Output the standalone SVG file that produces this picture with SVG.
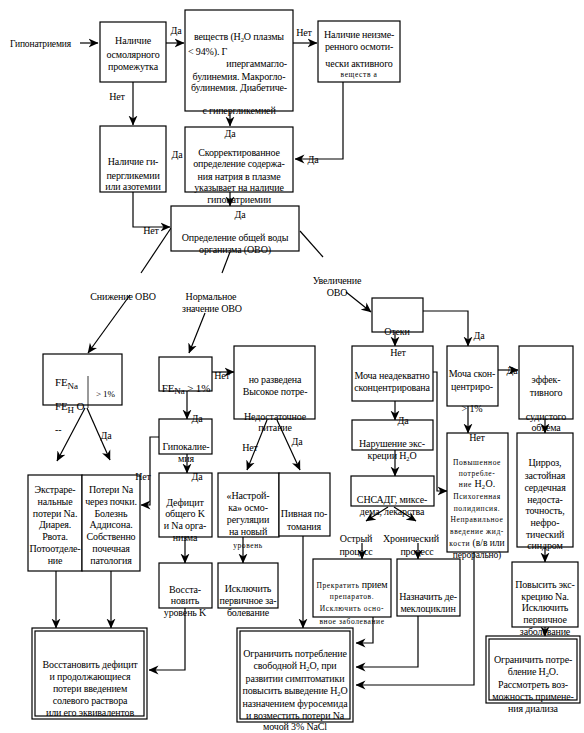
<svg xmlns="http://www.w3.org/2000/svg" width="584" height="733" viewBox="0 0 584 733" font-family="'Liberation Serif', 'Times New Roman', serif">
<defs>
<marker id="ah" markerUnits="userSpaceOnUse" markerWidth="10" markerHeight="10" viewBox="0 0 10 10" refX="9.5" refY="5" orient="auto">
<path d="M0,0.5 L10,5 L0,9.5 L3,5 z" fill="#000"/>
</marker>
<style>
.b{fill:#fff;stroke:#000;stroke-width:1.2}
.l{fill:none;stroke:#000;stroke-width:1.2}
.a{fill:none;stroke:#000;stroke-width:1.2;marker-end:url(#ah)}
text{font-family:"Liberation Serif","Times New Roman",serif;font-size:10px;letter-spacing:-0.15px;fill:#000}
.c{text-anchor:middle}
.s{font-size:7.5px;letter-spacing:0.6px}
.u{font-size:6.5px}
</style>
</defs>
<rect width="584" height="733" fill="#fff"/>

<g id="connectors">
<path class="a" d="M80,43 L98,43"/>
<path class="a" d="M166,43 L184,43"/>
<path class="a" d="M293,43 L317,43"/>
<path class="a" d="M343,82 L343,159 L295,159"/>
<path class="a" d="M133,82 L133,125"/>
<path class="a" d="M230,111 L230,126"/>
<path class="a" d="M133,192 L133,227 L170,227"/>
<path class="a" d="M230,192 L230,206"/>
<path class="l" d="M171,228 L141,273"/>
<path class="a" d="M130,295 L88,353"/>
<path class="l" d="M230,252 L222,273"/>
<path class="a" d="M205,313 L189,353"/>
<path class="l" d="M300,231 L323,257"/>
<path class="a" d="M346,292 L371,312"/>
<path class="a" d="M395,332 L395,346"/>
<path class="a" d="M423,311 L468,311 L468,346"/>
<path class="a" d="M395,401 L395,420"/>
<path class="a" d="M433,372 L437,372 L437,491 L447,491"/>
<path class="a" d="M468,406 L468,433"/>
<path class="a" d="M498,370 L518,370"/>
<path class="a" d="M545,419 L545,433"/>
<path class="a" d="M545,547 L545,562"/>
<path class="a" d="M545,627 L545,636"/>
<path class="a" d="M395,450 L395,476"/>
<path class="a" d="M388,507 L366,521"/>
<path class="a" d="M394,507 L416,521"/>
<path class="a" d="M362,543 L362,559"/>
<path class="a" d="M418,543 L418,559"/>
<path class="a" d="M373,617 L373,643 L356,643"/>
<path class="a" d="M418,616 L418,667 L356,667"/>
<path class="a" d="M474,552 L474,685 L356,685"/>
<path class="a" d="M303,536 L303,628"/>
<path class="a" d="M85,408 L57,461"/>
<path class="a" d="M87,408 L110,460"/>
<path class="a" d="M56,571 L56,628"/>
<path class="a" d="M111,571 L111,628"/>
<path class="a" d="M212,372 L234,372"/>
<path class="a" d="M187,391 L187,419"/>
<path class="a" d="M159,437 L150,437 L150,505 L141,505"/>
<path class="a" d="M187,454 L187,473"/>
<path class="a" d="M185,537 L185,563"/>
<path class="a" d="M185,608 L185,670 L149,670"/>
<path class="a" d="M267,420 L247,470"/>
<path class="a" d="M277,420 L300,470"/>
<path class="a" d="M243,537 L243,563"/>
</g>

<g id="n1">
<rect class="b" x="100" y="22" width="66" height="60"/>
<text x="133" y="44" class="c">Наличие</text>
<text x="133" y="58" class="c">осмолярного</text>
<text x="133" y="70" class="c">промежутка</text>
</g>
<g id="n2">
<rect class="b" x="185" y="10" width="108" height="101"/>
<text x="239" y="40" class="c">веществ (H<tspan class="u" dy="2">2</tspan><tspan dy="-2">O  плазмы</tspan></text>
<text x="188" y="55">&lt; 94%). Г</text>
<text x="287" y="67" text-anchor="end">ипергаммагло-</text>
<text x="239" y="80" class="c">булинемия.  Макрогло-</text>
<text x="239" y="91" class="c">булинемия.  Диабетиче-</text>
<text x="239" y="114" class="c">с гипергликемией</text>
</g>
<g id="n3">
<rect class="b" x="318" y="21" width="82" height="61"/>
<text x="359" y="38" class="c">Наличие  неизме-</text>
<text x="359" y="50" class="c">ренного  осмоти-</text>
<text x="359" y="67" class="c">чески  активного</text>
<text x="359" y="77" class="c s">веществ а</text>
</g>
<g id="n4">
<rect class="b" x="100" y="126" width="66" height="66"/>
<text x="133" y="165" class="c">Наличие  ги-</text>
<text x="133" y="179" class="c">пергликемии</text>
<text x="133" y="190" class="c">или азотемии</text>
</g>
<g id="n5">
<rect class="b" x="185" y="127" width="108" height="65"/>
<text x="230" y="137" class="c">Да</text>
<text x="239" y="156" class="c">Скорректированное</text>
<text x="239" y="167" class="c">определение  содержа-</text>
<text x="239" y="180" class="c">ния  натрия  в  плазме</text>
<text x="239" y="191" class="c">указывает на  наличие</text>
<text x="239" y="203" class="c">гипонатриемии</text>
</g>
<g id="n6">
<rect class="b" x="171" y="206" width="128" height="45"/>
<text x="240" y="218" class="c">Да</text>
<text x="235" y="241" class="c">Определение  общей воды</text>
<text x="235" y="253" class="c">организма  (ОВО)</text>
</g>
<g id="n7">
<rect class="b" x="43" y="354" width="79" height="51"/>
<line class="l" x1="88" y1="376" x2="88" y2="408" style="stroke-width:0.8"/>
<text x="55" y="386" style="font-size:11px">FE<tspan dy="3" style="font-size:9px">Na</tspan></text>
<text x="96" y="397" style="font-size:9px">&gt; 1%</text>
<text x="55" y="410" style="font-size:11px">FE<tspan dy="3" style="font-size:9px">H</tspan><tspan dy="-3"> O</tspan></text>
</g>
<g id="n8">
<rect class="b" x="28" y="475" width="54" height="96"/>
<text x="55" y="493" class="c">Экстраре-</text>
<text x="55" y="505" class="c">нальные</text>
<text x="55" y="517" class="c">потери  Na.</text>
<text x="55" y="528" class="c">Диарея.</text>
<text x="55" y="540" class="c">Рвота.</text>
<text x="55" y="552" class="c">Потоотделе-</text>
<text x="55" y="564" class="c">ние</text>
</g>
<g id="n9">
<rect class="b" x="82" y="475" width="58" height="96"/>
<text x="111" y="493" class="c">Потери  Na</text>
<text x="111" y="505" class="c">через почки.</text>
<text x="111" y="517" class="c">Болезнь</text>
<text x="111" y="528" class="c">Аддисона.</text>
<text x="111" y="540" class="c">Собственно</text>
<text x="111" y="552" class="c">почечная</text>
<text x="111" y="564" class="c">патология</text>
</g>
<g id="n10">
<rect class="b" x="32" y="628" width="115" height="91"/>
<rect class="l" x="35" y="631" width="109" height="85"/>
<text x="90" y="668" class="c">Восстановить  дефицит</text>
<text x="90" y="680" class="c">и продолжающиеся</text>
<text x="90" y="692" class="c">потери  введением</text>
<text x="90" y="704" class="c">солевого раствора</text>
<text x="90" y="716" class="c">или его эквивалентов</text>
</g>
<g id="n11">
<rect class="b" x="159" y="357" width="53" height="34"/>
<text x="186" y="392" class="c" style="font-size:11px">FE<tspan dy="2" style="font-size:9px">Na</tspan><tspan dy="-2"> &gt; 1%</tspan></text>
</g>
<g id="n12">
<rect class="b" x="234" y="346" width="81" height="73"/>
<text x="275" y="383" class="c">но разведена</text>
<text x="275" y="395" class="c">Высокое потре-</text>
<text x="275" y="420" class="c">Недостаточное</text>
<text x="275" y="431" class="c">питание</text>
</g>
<g id="n13">
<rect class="b" x="159" y="419" width="53" height="35"/>
<text x="186" y="450" class="c">Гипокалие-</text>
<text x="186" y="462" class="c">мия</text>
</g>
<g id="n14">
<rect class="b" x="159" y="473" width="53" height="64"/>
<text x="185" y="506" class="c">Дефицит</text>
<text x="185" y="517" class="c">общего K</text>
<text x="185" y="529" class="c">и Na орга-</text>
<text x="185" y="541" class="c">низма</text>
</g>
<g id="n15">
<rect class="b" x="159" y="563" width="53" height="45"/>
<text x="185" y="593" class="c">Восста-</text>
<text x="185" y="604" class="c">новить</text>
<text x="185" y="616" class="c">уровень K</text>
</g>
<g id="n16">
<rect class="b" x="218" y="473" width="61" height="64"/>
<text x="248" y="499" class="c">«Настрой-</text>
<text x="248" y="511" class="c">ка» осмо-</text>
<text x="248" y="523" class="c">регуляции</text>
<text x="248" y="535" class="c">на новый</text>
<text x="248" y="548" class="c s">уровень</text>
</g>
<g id="n17">
<rect class="b" x="218" y="563" width="60" height="45"/>
<text x="248" y="592" class="c">Исключить</text>
<text x="248" y="604" class="c">первичное  за-</text>
<text x="248" y="616" class="c">болевание</text>
</g>
<g id="n18">
<rect class="b" x="279" y="473" width="51" height="63"/>
<text x="304" y="517" class="c">Пивная  по-</text>
<text x="304" y="530" class="c">томания</text>
</g>
<g id="n19">
<rect class="b" x="372" y="298" width="51" height="34"/>
<text x="397" y="335" class="c">Отеки</text>
</g>
<g id="n20">
<rect class="b" x="352" y="346" width="81" height="55"/>
<text x="398" y="356" class="c">Нет</text>
<text x="392" y="379" class="c">Моча неадекватно</text>
<text x="392" y="391" class="c">сконцентрирована</text>
</g>
<g id="n21">
<rect class="b" x="447" y="346" width="51" height="60"/>
<text x="472" y="377" class="c">Моча скон-</text>
<text x="472" y="390" class="c">центриро-</text>
</g>
<g id="n22">
<rect class="b" x="519" y="346" width="54" height="73"/>
<text x="546" y="383" class="c">эффек-</text>
<text x="546" y="396" class="c">тивного</text>
<text x="546" y="420" class="c">судистого</text>
<text x="546" y="431" class="c">объема</text>
</g>
<g id="n23">
<rect class="b" x="352" y="420" width="81" height="30"/>
<text x="392" y="447" class="c">Нарушение  экс-</text>
<text x="392" y="459" class="c">креции H<tspan class="u" dy="2">2</tspan><tspan dy="-2">O</tspan></text>
</g>
<g id="n24">
<rect class="b" x="351" y="476" width="83" height="30"/>
<text x="392" y="503" class="c">СНСАДГ, миксе-</text>
<text x="392" y="515" class="c">дема, лекарства</text>
</g>
<g id="n25">
<rect class="b" x="313" y="559" width="78" height="58"/>
<text x="352" y="588" class="c"><tspan class="s">Прекратить</tspan>  прием</text>
<text x="352" y="599" class="c s">препаратов.</text>
<text x="352" y="611" class="c s">Исключить  осно-</text>
<text x="352" y="624" class="c s">вное заболевание</text>
</g>
<g id="n26">
<rect class="b" x="397" y="559" width="63" height="57"/>
<text x="428" y="600" class="c">Назначить  де-</text>
<text x="428" y="612" class="c">меклоциклин</text>
</g>
<g id="n27">
<rect class="b" x="447" y="433" width="61" height="119"/>
<text x="477" y="441" class="c">Нет</text>
<text x="477" y="465" class="c s">Повышенное</text>
<text x="477" y="476" class="c s">потребле-</text>
<text x="477" y="487" class="c s">ние <tspan style="font-size:10px;letter-spacing:0">H</tspan><tspan class="u" dy="2">2</tspan><tspan dy="-2" style="font-size:10px;letter-spacing:0">O.</tspan></text>
<text x="477" y="499" class="c s">Психогенная</text>
<text x="477" y="511" class="c s">полидипсия.</text>
<text x="477" y="522" class="c s">Неправильное</text>
<text x="477" y="534" class="c s">введение  жид-</text>
<text x="477" y="546" class="c s">кости  <tspan style="font-size:9.5px;letter-spacing:0">(в/в или</tspan></text>
<text x="477" y="558" class="c" style="font-size:9.5px">перорально)</text>
</g>
<g id="n28">
<rect class="b" x="517" y="433" width="56" height="114"/>
<text x="545" y="466" class="c">Цирроз,</text>
<text x="545" y="479" class="c">застойная</text>
<text x="545" y="491" class="c">сердечная</text>
<text x="545" y="503" class="c">недоста-</text>
<text x="545" y="514" class="c">точность,</text>
<text x="545" y="526" class="c">нефро-</text>
<text x="545" y="538" class="c">тический</text>
<text x="545" y="549" class="c">синдром</text>
</g>
<g id="n29">
<rect class="b" x="512" y="562" width="66" height="65"/>
<text x="545" y="588" class="c">Повысить  экс-</text>
<text x="545" y="600" class="c">крецию  Na.</text>
<text x="545" y="611" class="c">Исключить</text>
<text x="545" y="623" class="c">первичное</text>
<text x="545" y="635" class="c">заболевание</text>
</g>
<g id="n30">
<rect class="b" x="486" y="636" width="94" height="67"/>
<rect class="l" x="489" y="639" width="88" height="61"/>
<text x="533" y="663" class="c">Ограничить  потре-</text>
<text x="533" y="675" class="c">бление  H<tspan class="u" dy="2">2</tspan><tspan dy="-2">O.</tspan></text>
<text x="533" y="688" class="c">Рассмотреть  воз-</text>
<text x="533" y="700" class="c">можность примене-</text>
<text x="533" y="712" class="c">ния диализа</text>
</g>
<g id="n31">
<rect class="b" x="237" y="628" width="116" height="94"/>
<rect class="l" x="240" y="631" width="110" height="88"/>
<text x="295" y="657" class="c">Ограничить  потребление</text>
<text x="295" y="669" class="c">свободной  H<tspan class="u" dy="2">2</tspan><tspan dy="-2">O,  при</tspan></text>
<text x="295" y="682" class="c">развитии  симптоматики</text>
<text x="295" y="694" class="c">повысить выведение H<tspan class="u" dy="2">2</tspan><tspan dy="-2">O</tspan></text>
<text x="295" y="707" class="c">назначением  фуросемида</text>
<text x="295" y="719" class="c">и возместить  потери  Na</text>
<text x="295" y="730" class="c">мочой  3% NaCl</text>
</g>

<g id="labels">
<text x="10" y="47" style="font-size:9.5px">Гипонатриемия</text>
<text x="176" y="34" class="c">Да</text>
<text x="304" y="36" class="c">Нет</text>
<text x="117" y="100" class="c">Нет</text>
<text x="313" y="163" class="c">Да</text>
<text x="177" y="158" class="c">Да</text>
<text x="151" y="234" class="c">Нет</text>
<text x="123" y="300" class="c">Снижение  ОВО</text>
<text x="211" y="300" class="c">Нормальное</text>
<text x="212" y="312" class="c">значение  ОВО</text>
<text x="337" y="284" class="c">Увеличение</text>
<text x="337" y="296" class="c">ОВО</text>
<text x="479" y="339" class="c">Да</text>
<text x="512" y="374" class="c">Да</text>
<text x="472" y="412" class="c">&gt; 1%</text>
<text x="403" y="424" class="c">Да</text>
<text x="356" y="542" class="c">Острый</text>
<text x="356" y="555" class="c">процесс</text>
<text x="411" y="542" class="c">Хронический</text>
<text x="417" y="555" class="c">процесс</text>
<text x="222" y="379" class="c">Нет</text>
<text x="197" y="422" class="c">Да</text>
<text x="197" y="480" class="c">Да</text>
<text x="143" y="480" class="c">Нет</text>
<text x="250" y="451" class="c">Нет</text>
<text x="297" y="445" class="c">Да</text>
<text x="106" y="439" class="c">Да</text>
<text x="55" y="433">--</text>
</g>
</svg>
